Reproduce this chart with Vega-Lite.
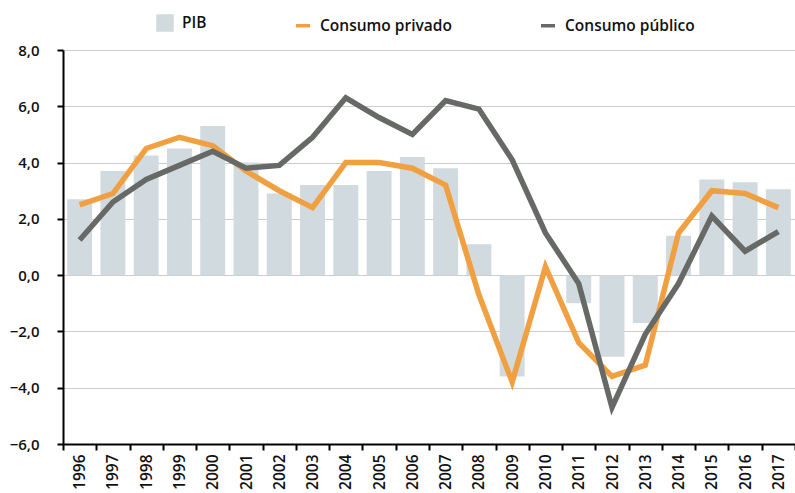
{
  "$schema": "https://vega.github.io/schema/vega-lite/v6.json",
  "autosize": {"type": "none"},
  "padding": {"left": 63, "top": 50, "right": 0, "bottom": 49},
  "width": 732,
  "height": 394,
  "background": "white",
  "config": {
    "view": {"stroke": null},
    "font": "Open Sans",
    "axis": {"labelFont": "Open Sans", "labelColor": "#111111", "labelFontSize": 15, "labelFontWeight": 600}
  },
  "data": {
    "values": [
      {"year": "1996", "serie": "PIB", "value": 2.7},
      {"year": "1997", "serie": "PIB", "value": 3.7},
      {"year": "1998", "serie": "PIB", "value": 4.25},
      {"year": "1999", "serie": "PIB", "value": 4.5},
      {"year": "2000", "serie": "PIB", "value": 5.3},
      {"year": "2001", "serie": "PIB", "value": 4.0},
      {"year": "2002", "serie": "PIB", "value": 2.9},
      {"year": "2003", "serie": "PIB", "value": 3.2},
      {"year": "2004", "serie": "PIB", "value": 3.2},
      {"year": "2005", "serie": "PIB", "value": 3.7},
      {"year": "2006", "serie": "PIB", "value": 4.2},
      {"year": "2007", "serie": "PIB", "value": 3.8},
      {"year": "2008", "serie": "PIB", "value": 1.1},
      {"year": "2009", "serie": "PIB", "value": -3.6},
      {"year": "2010", "serie": "PIB", "value": 0.0},
      {"year": "2011", "serie": "PIB", "value": -1.0},
      {"year": "2012", "serie": "PIB", "value": -2.9},
      {"year": "2013", "serie": "PIB", "value": -1.7},
      {"year": "2014", "serie": "PIB", "value": 1.4},
      {"year": "2015", "serie": "PIB", "value": 3.4},
      {"year": "2016", "serie": "PIB", "value": 3.3},
      {"year": "2017", "serie": "PIB", "value": 3.05},
      {"year": "1996", "serie": "Consumo privado", "value": 2.5},
      {"year": "1997", "serie": "Consumo privado", "value": 2.9},
      {"year": "1998", "serie": "Consumo privado", "value": 4.5},
      {"year": "1999", "serie": "Consumo privado", "value": 4.9},
      {"year": "2000", "serie": "Consumo privado", "value": 4.6},
      {"year": "2001", "serie": "Consumo privado", "value": 3.7},
      {"year": "2002", "serie": "Consumo privado", "value": 3.0},
      {"year": "2003", "serie": "Consumo privado", "value": 2.4},
      {"year": "2004", "serie": "Consumo privado", "value": 4.0},
      {"year": "2005", "serie": "Consumo privado", "value": 4.0},
      {"year": "2006", "serie": "Consumo privado", "value": 3.8},
      {"year": "2007", "serie": "Consumo privado", "value": 3.2},
      {"year": "2008", "serie": "Consumo privado", "value": -0.7},
      {"year": "2009", "serie": "Consumo privado", "value": -3.8},
      {"year": "2010", "serie": "Consumo privado", "value": 0.3},
      {"year": "2011", "serie": "Consumo privado", "value": -2.4},
      {"year": "2012", "serie": "Consumo privado", "value": -3.6},
      {"year": "2013", "serie": "Consumo privado", "value": -3.2},
      {"year": "2014", "serie": "Consumo privado", "value": 1.5},
      {"year": "2015", "serie": "Consumo privado", "value": 3.0},
      {"year": "2016", "serie": "Consumo privado", "value": 2.9},
      {"year": "2017", "serie": "Consumo privado", "value": 2.4},
      {"year": "1996", "serie": "Consumo público", "value": 1.25},
      {"year": "1997", "serie": "Consumo público", "value": 2.6},
      {"year": "1998", "serie": "Consumo público", "value": 3.4},
      {"year": "1999", "serie": "Consumo público", "value": 3.9},
      {"year": "2000", "serie": "Consumo público", "value": 4.4},
      {"year": "2001", "serie": "Consumo público", "value": 3.8},
      {"year": "2002", "serie": "Consumo público", "value": 3.9},
      {"year": "2003", "serie": "Consumo público", "value": 4.9},
      {"year": "2004", "serie": "Consumo público", "value": 6.3},
      {"year": "2005", "serie": "Consumo público", "value": 5.6},
      {"year": "2006", "serie": "Consumo público", "value": 5.0},
      {"year": "2007", "serie": "Consumo público", "value": 6.2},
      {"year": "2008", "serie": "Consumo público", "value": 5.9},
      {"year": "2009", "serie": "Consumo público", "value": 4.1},
      {"year": "2010", "serie": "Consumo público", "value": 1.5},
      {"year": "2011", "serie": "Consumo público", "value": -0.3},
      {"year": "2012", "serie": "Consumo público", "value": -4.7},
      {"year": "2013", "serie": "Consumo público", "value": -2.1},
      {"year": "2014", "serie": "Consumo público", "value": -0.3},
      {"year": "2015", "serie": "Consumo público", "value": 2.1},
      {"year": "2016", "serie": "Consumo público", "value": 0.85},
      {"year": "2017", "serie": "Consumo público", "value": 1.55}
    ]
  },
  "encoding": {
    "x": {
      "field": "year", "type": "nominal", "sort": null,
      "scale": {"type": "band", "paddingInner": 0, "paddingOuter": 0},
      "axis": {
        "title": null, "labelAngle": -90, "labelAlign": "right", "labelBaseline": "middle",
        "labelFontSize": 15.5,
        "tickBand": "extent", "domainColor": "#000000", "domainWidth": 2,
        "tickColor": "#000000", "tickWidth": 2, "tickSize": 6, "labelPadding": 4, "grid": false
      }
    }
  },
  "layer": [
    {
      "transform": [{"filter": "datum.serie === 'PIB'"}],
      "mark": {"type": "bar", "width": {"band": 0.75}},
      "encoding": {
        "y": {
          "field": "value", "type": "quantitative",
          "scale": {"domain": [-6, 8], "nice": false, "zero": false},
          "axis": {
            "title": null, "values": [-6, -4, -2, 0, 2, 4, 6, 8],
            "labelExpr": "replace(format(datum.value, '.1f'), '.', ',')",
            "domainColor": "#000000", "domainWidth": 2,
            "tickColor": "#000000", "tickWidth": 2, "tickSize": 6, "labelPadding": 18,
            "grid": true, "gridColor": "#cccccc", "gridWidth": 1.2
          }
        },
        "color": {
          "field": "serie", "type": "nominal",
          "scale": {"domain": ["PIB", "Consumo privado", "Consumo público"], "range": ["#d1dadf", "#f0a041", "#676967"]},
          "legend": {
            "title": null, "orient": "none", "legendX": 93, "legendY": -36,
            "direction": "horizontal", "columnPadding": 82,
            "labelFont": "Open Sans", "labelFontSize": 15.5, "labelFontWeight": 600, "labelColor": "#111111",
            "symbolSize": 196, "labelOffset": 8,
            "encode": {
              "symbols": {
                "update": {
                  "shape": {"signal": "datum.value === 'PIB' ? 'square' : 'stroke'"},
                  "fill": {"signal": "datum.value === 'PIB' ? '#c4ced4' : 'transparent'"},
                  "stroke": {"signal": "datum.value === 'PIB' ? 'transparent' : (datum.value === 'Consumo privado' ? '#f0a041' : '#676967')"},
                  "strokeWidth": {"value": 3.5},
                  "opacity": {"value": 1}
                }
              }
            }
          }
        }
      }
    },
    {
      "mark": {"type": "rule", "color": "#000000", "strokeWidth": 1.5},
      "encoding": {"y": {"datum": 0}}
    },
    {
      "transform": [{"filter": "datum.serie !== 'PIB'"}],
      "mark": {"type": "line", "strokeWidth": 5.5, "strokeJoin": "miter"},
      "encoding": {
        "y": {"field": "value", "type": "quantitative"},
        "color": {"field": "serie", "type": "nominal"}
      }
    }
  ]
}
